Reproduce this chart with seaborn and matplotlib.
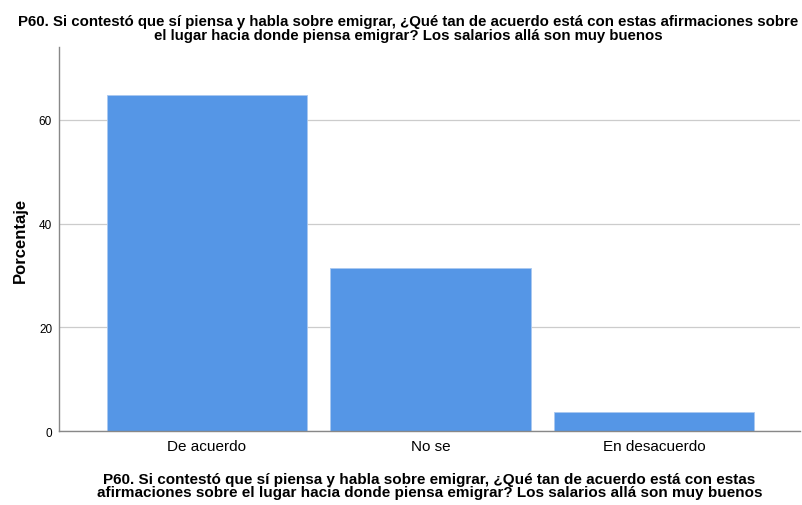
import seaborn as sns
import matplotlib.pyplot as plt
import pandas as pd

# data
categorias = ["De acuerdo", "No se", "En desacuerdo"]
porcentaje = [64.8, 31.5, 3.7]
titulo = ("P60. Si contestó que sí piensa y habla sobre emigrar, ¿Qué tan de acuerdo está con estas afirmaciones sobre\n"
          "el lugar hacia donde piensa emigrar? Los salarios allá son muy buenos")
xlab = ("P60. Si contestó que sí piensa y habla sobre emigrar, ¿Qué tan de acuerdo está con estas\n"
        "afirmaciones sobre el lugar hacia donde piensa emigrar? Los salarios allá son muy buenos")

df = pd.DataFrame({"cat": categorias, "pct": porcentaje})

sns.set_style("white")
plt.rcParams['font.family'] = ['Liberation Sans', 'DejaVu Sans']
plt.rcParams['text.color'] = 'black'
plt.rcParams['axes.labelcolor'] = 'black'
plt.rcParams['xtick.color'] = 'black'
plt.rcParams['ytick.color'] = 'black'

fig = plt.figure(figsize=(8.03, 5.06), dpi=100)
ax = fig.add_axes([0.0735, 0.146, 0.9225, 0.759])

sns.barplot(data=df, x="cat", y="pct", color="#5596E6", width=0.895,
            saturation=1, edgecolor="#a9c8f0", linewidth=0.6, ax=ax, zorder=2)

ax.set_ylim(0, 74)
ax.set_xlim(-0.66, 2.65)
ax.set_yticks([0, 20, 40, 60])
ax.yaxis.grid(True, color="#cccccc", linewidth=0.9, zorder=0)
ax.set_axisbelow(True)

for s in ["top", "right"]:
    ax.spines[s].set_visible(False)
for s in ["left", "bottom"]:
    ax.spines[s].set_color("#888888")
    ax.spines[s].set_linewidth(1.0)

ax.tick_params(axis="y", labelsize=8.5, length=3, color="#888888", pad=2)
ax.tick_params(axis="x", labelsize=11, length=0, pad=6)
ax.set_ylabel("Porcentaje", fontsize=12, fontweight="bold", labelpad=8)
ax.set_xlabel(xlab, fontsize=11, fontweight="bold", labelpad=13, linespacing=0.95)

fig.suptitle(titulo, fontsize=10.8, fontweight="bold", x=0.508, y=0.97, linespacing=1.0)

plt.savefig("out.png", dpi=100)
